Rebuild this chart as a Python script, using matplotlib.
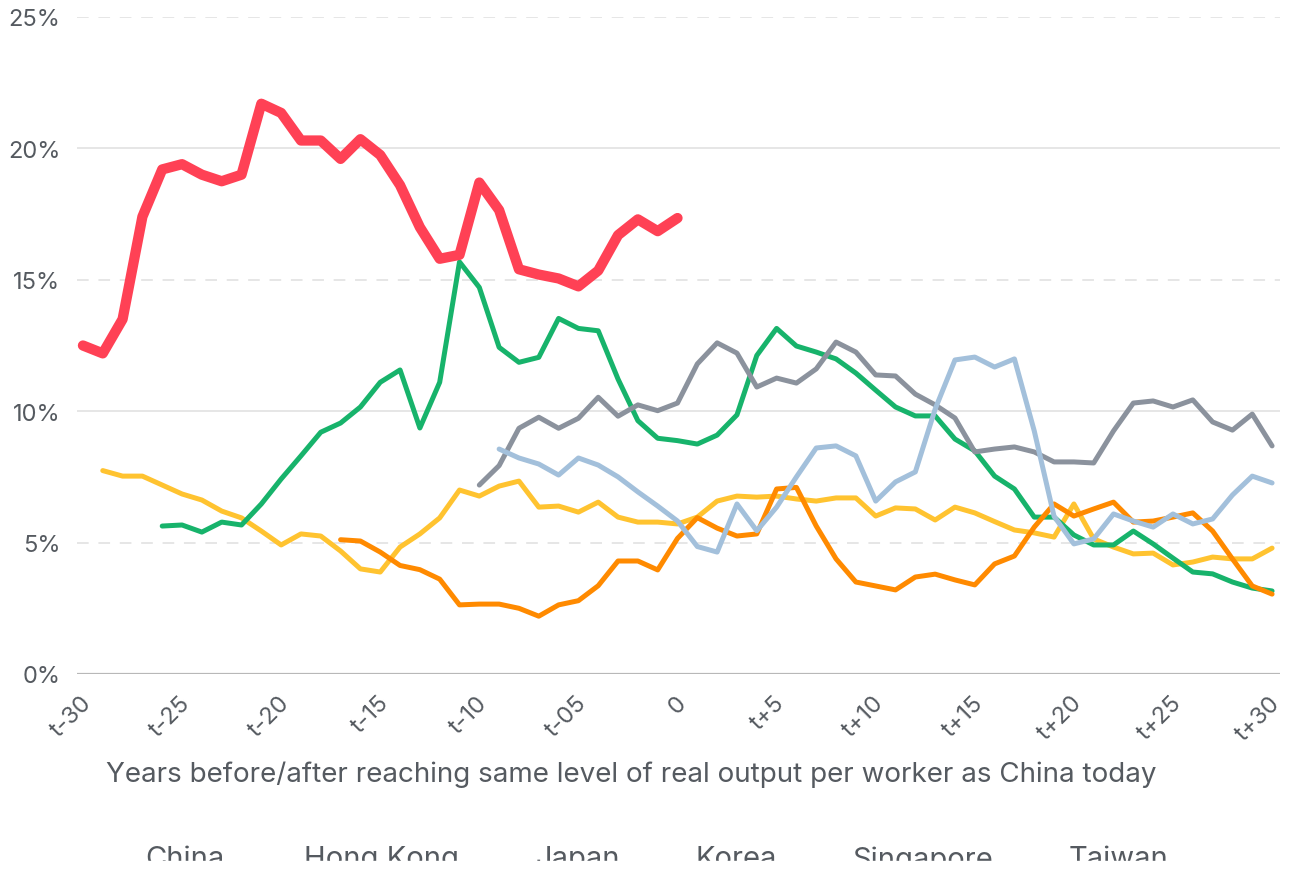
import numpy as np
import matplotlib
matplotlib.use('Agg')
import matplotlib.pyplot as plt
import matplotlib.transforms as mtransforms
from matplotlib.patches import Rectangle

plt.rcParams['font.family'] = ['Inter', 'DejaVu Sans']

# Data (share of ..., %), years relative to reaching China's current level
years = np.arange(-30, 31)

china = [12.5, 12.2, 13.5, 17.4, 19.2, 19.4, 19.0, 18.75, 19.0, 21.7, 21.35,
         20.3, 20.3, 19.6, 20.35, 19.75, 18.6, 17.0, 15.8, 15.95, 18.7,
         17.65, 15.4, 15.2, 15.05, 14.75, 15.35, 16.7, 17.3, 16.85, 17.35]

hong_kong = [7.74, 7.53, 7.53, 7.19, 6.85, 6.62, 6.2, 5.94, 5.44, 4.91,
             5.33, 5.25, 4.68, 4.0, 3.88, 4.83, 5.33, 5.94, 7.0, 6.77, 7.15,
             7.34, 6.35, 6.39, 6.16, 6.54, 5.97, 5.78, 5.78, 5.71, 5.97, 6.58,
             6.77, 6.73, 6.77, 6.66, 6.58, 6.7, 6.7, 6.01, 6.32, 6.28, 5.86,
             6.35, 6.13, 5.8, 5.48, 5.37, 5.21, 6.47, 5.14, 4.83, 4.57, 4.6,
             4.15, 4.26, 4.45, 4.38, 4.38, 4.79]

japan = [5.63, 5.67, 5.4, 5.78, 5.67, 6.47, 7.42, 8.3, 9.2, 9.55, 10.16,
         11.1, 11.57, 9.36, 11.1, 15.68, 14.71, 12.43, 11.86, 12.05, 13.53,
         13.15, 13.06, 11.22, 9.64, 8.97, 8.88, 8.75, 9.09, 9.86, 12.12,
         13.15, 12.48, 12.25, 11.99, 11.45, 10.8, 10.16, 9.82, 9.82, 8.94,
         8.49, 7.53, 7.04, 5.97, 5.97, 5.29, 4.91, 4.91, 5.44, 4.95, 4.41,
         3.88, 3.81, 3.5, 3.27, 3.16]

korea = [7.19, 7.93, 9.35, 9.77, 9.35, 9.73, 10.53, 9.81, 10.24, 10.02,
         10.31, 11.8, 12.6, 12.21, 10.92, 11.26, 11.07, 11.61, 12.63, 12.25,
         11.38, 11.34, 10.65, 10.24, 9.74, 8.45, 8.56, 8.64, 8.45, 8.07,
         8.07, 8.03, 9.25, 10.31, 10.39, 10.16, 10.43, 9.59, 9.28, 9.89, 8.68]

singapore = [5.11, 5.06, 4.64, 4.13, 3.97, 3.61, 2.63, 2.66, 2.66, 2.5, 2.2,
             2.63, 2.79, 3.36, 4.3, 4.3, 3.96, 5.16, 5.95, 5.55, 5.25, 5.33,
             7.04, 7.1, 5.63, 4.38, 3.5, 3.35, 3.2, 3.69, 3.8, 3.58, 3.39,
             4.19, 4.49, 5.59, 6.47, 6.01, 6.28, 6.54, 5.78, 5.82, 5.97, 6.13,
             5.44, 4.38, 3.35, 3.04]

taiwan = [8.56, 8.22, 7.99, 7.57, 8.22, 7.95, 7.5, 6.93, 6.39, 5.82, 4.85,
          4.64, 6.47, 5.45, 6.35, 7.5, 8.6, 8.68, 8.3, 6.58, 7.31, 7.69,
          10.08, 11.95, 12.06, 11.68, 11.99, 9.25, 6.0, 4.95, 5.14, 6.09,
          5.82, 5.59, 6.09, 5.71, 5.9, 6.81, 7.53, 7.27]

names = ['China', 'Hong Kong', 'Japan', 'Korea', 'Singapore', 'Taiwan']
colors = ['#ff4155', '#ffc330', '#17b36b', '#8b929d', '#ff8a00', '#a3c0db']
tick_pos = np.arange(-30, 31, 5)
tick_labels = ['t-30', 't-25', 't-20', 't-15', 't-10', 't-05', '0',
               't+5', 't+10', 't+15', 't+20', 't+25', 't+30']

fig = plt.figure(figsize=(12.89, 8.7), dpi=100)
ax = fig.add_axes([77 / 1289, 1 - 675 / 870, 1203 / 1289, 657 / 870])

# gridlines: solid at 10/20, dashed at 5/15/25
for y in [5, 10, 15, 20, 25]:
    ls = (0, (6, 5)) if y % 10 else '-'
    ax.axhline(y, color='#e6e6e6', lw=1.4, ls=ls, zorder=0)
ax.axhline(0, color='#b8b8b8', lw=1.6, zorder=1)

series = [hong_kong, japan, korea, singapore, taiwan]
starts = [-29, -26, -10, -17, -9]
for vals, s, c in zip(series, starts, colors[1:]):
    x = np.arange(s, s + len(vals))
    ax.plot(x, vals, color=c, lw=3.6, solid_capstyle='round',
            solid_joinstyle='round', zorder=2)
ax.plot(np.arange(-30, -30 + len(china)), china, color=colors[0], lw=7.4,
        solid_capstyle='round', solid_joinstyle='round', zorder=3)

ax.set_xlim(-30.3, 30.4)
ax.set_ylim(0, 25)
ax.set_yticks([0, 5, 10, 15, 20, 25])
ax.set_yticklabels(['0%', '5%', '10%', '15%', '20%', '25%'])
ax.set_xticks(tick_pos)
ax.set_xticklabels(tick_labels, rotation=45, ha='right', va='center',
                   rotation_mode='anchor')
ax.tick_params(axis='both', length=0, labelsize=17, labelcolor='#555a60')
ax.tick_params(axis='y', pad=12)
ax.tick_params(axis='x', pad=18)
offset = mtransforms.ScaledTranslation(5 / 100, 0, fig.dpi_scale_trans)
for lab in ax.get_xticklabels():
    lab.set_transform(lab.get_transform() + offset)
for sp in ax.spines.values():
    sp.set_visible(False)

fig.text(631 / 1289, 1 - 775 / 870,
         'Years before/after reaching same level of real output per worker as China today',
         ha='center', va='center', fontsize=20, color='#555a60')

# legend row (cut off at the bottom)
leg_x = [185, 381, 578, 736, 923, 1119]
for name, lx in zip(names, leg_x):
    fig.text(lx / 1289, 1 - 860 / 870, name, ha='center', va='center',
             fontsize=21, color='#555a60')
fig.patches.append(Rectangle((0, 0), 1, 8 / 870, transform=fig.transFigure,
                             color='white', zorder=10))

fig.savefig('out.png', dpi=100)
